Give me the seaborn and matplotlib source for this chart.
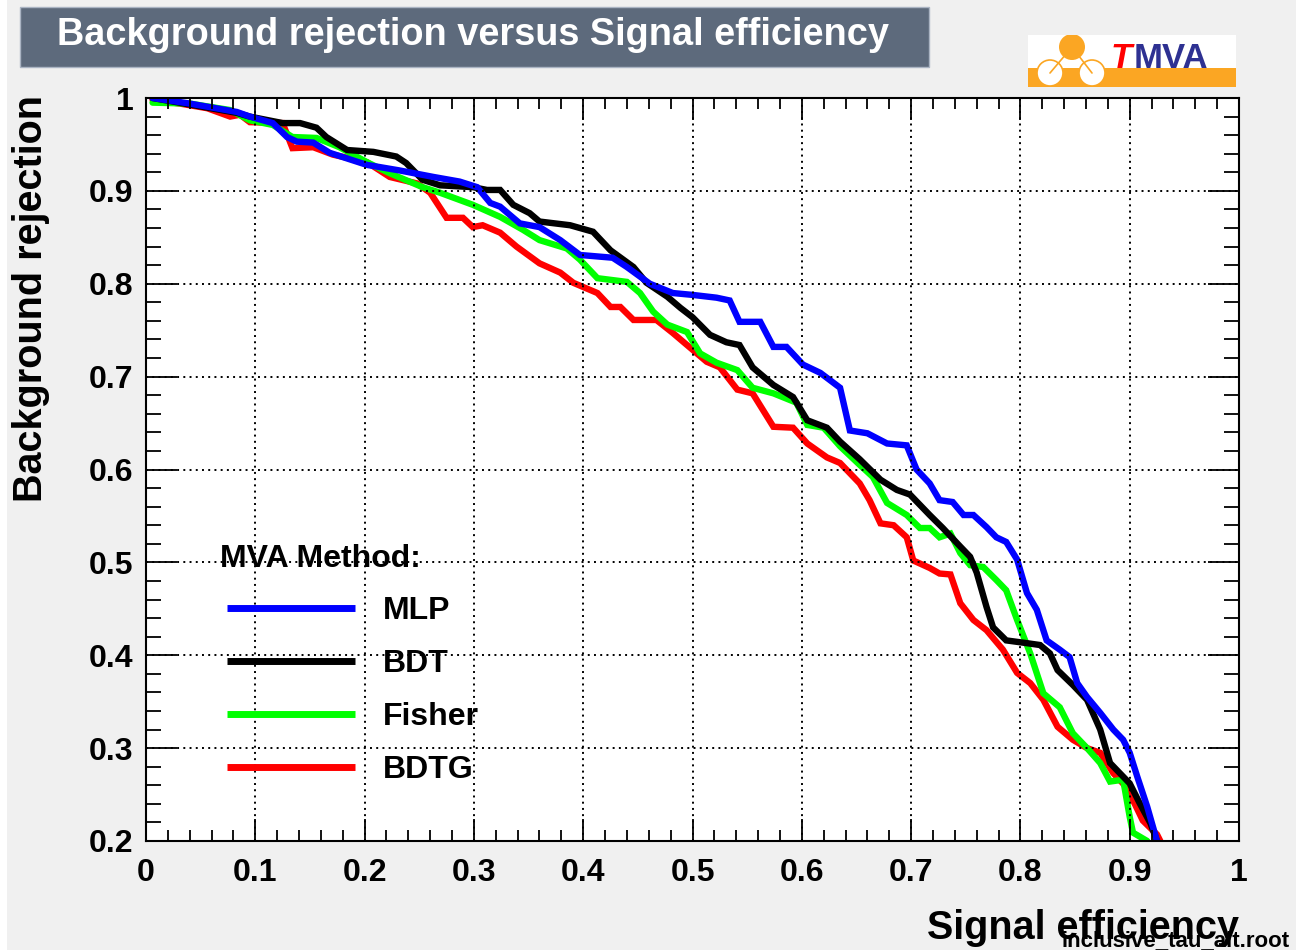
import matplotlib
matplotlib.use("Agg")
import matplotlib.pyplot as plt
from matplotlib.patches import Rectangle, Circle
from matplotlib.lines import Line2D
from matplotlib.ticker import MultipleLocator, FuncFormatter
import seaborn as sns
import pandas as pd

# ROC curves: signal efficiency vs background rejection per MVA method
mlp_eff = [0.006, 0.04, 0.083, 0.095, 0.116, 0.129, 0.138, 0.153, 0.168, 0.202, 0.232, 0.263,
           0.287, 0.303, 0.315, 0.324, 0.342, 0.36, 0.379, 0.397, 0.427, 0.44, 0.461, 0.482,
           0.5, 0.522, 0.534, 0.543, 0.562, 0.574, 0.586, 0.601, 0.617, 0.635, 0.644, 0.66,
           0.678, 0.696, 0.705, 0.717, 0.726, 0.738, 0.748, 0.757, 0.769, 0.778, 0.787, 0.797,
           0.806, 0.815, 0.824, 0.836, 0.845, 0.852, 0.861, 0.873, 0.885, 0.894, 0.9, 0.907,
           0.916, 0.925]
mlp_rej = [1.0, 0.994, 0.985, 0.98, 0.973, 0.958, 0.953, 0.952, 0.941, 0.928, 0.922, 0.915,
           0.91, 0.904, 0.887, 0.883, 0.865, 0.861, 0.847, 0.831, 0.828, 0.818, 0.8, 0.79,
           0.788, 0.785, 0.782, 0.759, 0.759, 0.732, 0.732, 0.713, 0.704, 0.688, 0.642, 0.639,
           0.628, 0.626, 0.6, 0.585, 0.567, 0.565, 0.551, 0.551, 0.538, 0.527, 0.522, 0.503,
           0.467, 0.449, 0.416, 0.406, 0.398, 0.37, 0.355, 0.338, 0.32, 0.309, 0.295, 0.269,
           0.237, 0.2]

bdt_eff = [0.006, 0.04, 0.083, 0.095, 0.125, 0.141, 0.156, 0.165, 0.184, 0.208, 0.229, 0.238,
           0.253, 0.269, 0.299, 0.312, 0.324, 0.336, 0.351, 0.36, 0.388, 0.409, 0.425, 0.446,
           0.458, 0.477, 0.489, 0.5, 0.516, 0.531, 0.543, 0.555, 0.574, 0.592, 0.605, 0.623,
           0.635, 0.653, 0.672, 0.687, 0.699, 0.717, 0.729, 0.745, 0.754, 0.76, 0.769, 0.775,
           0.787, 0.806, 0.818, 0.827, 0.834, 0.848, 0.861, 0.873, 0.882, 0.891, 0.9, 0.909,
           0.919, 0.925]
bdt_rej = [1.0, 0.993, 0.984, 0.98, 0.973, 0.973, 0.968, 0.958, 0.944, 0.942, 0.937, 0.93,
           0.912, 0.906, 0.904, 0.901, 0.901, 0.885, 0.876, 0.867, 0.863, 0.856, 0.836, 0.818,
           0.801, 0.786, 0.774, 0.764, 0.745, 0.737, 0.734, 0.71, 0.691, 0.678, 0.653, 0.645,
           0.63, 0.611, 0.589, 0.578, 0.573, 0.551, 0.537, 0.517, 0.506, 0.489, 0.452, 0.43,
           0.416, 0.413, 0.411, 0.402, 0.384, 0.368, 0.352, 0.32, 0.284, 0.273, 0.262, 0.241,
           0.219, 0.2]

fisher_eff = [0.006, 0.04, 0.077, 0.095, 0.116, 0.134, 0.156, 0.177, 0.202, 0.223, 0.253, 0.269,
              0.299, 0.324, 0.345, 0.36, 0.385, 0.397, 0.413, 0.44, 0.452, 0.464, 0.477, 0.495,
              0.507, 0.522, 0.541, 0.555, 0.574, 0.595, 0.605, 0.62, 0.635, 0.653, 0.665, 0.678,
              0.696, 0.708, 0.717, 0.726, 0.736, 0.745, 0.754, 0.766, 0.778, 0.787, 0.797, 0.809,
              0.821, 0.836, 0.848, 0.861, 0.873, 0.882, 0.894, 0.9, 0.903, 0.916]
fisher_rej = [0.995, 0.994, 0.987, 0.976, 0.971, 0.958, 0.957, 0.947, 0.931, 0.919, 0.904, 0.898,
              0.885, 0.872, 0.858, 0.847, 0.838, 0.826, 0.806, 0.802, 0.79, 0.77, 0.756, 0.748,
              0.725, 0.715, 0.707, 0.688, 0.682, 0.672, 0.648, 0.645, 0.625, 0.605, 0.592, 0.564,
              0.551, 0.537, 0.537, 0.527, 0.531, 0.51, 0.497, 0.495, 0.481, 0.47, 0.438, 0.402,
              0.359, 0.344, 0.316, 0.3, 0.284, 0.264, 0.266, 0.226, 0.209, 0.2]

bdtg_eff = [0.006, 0.031, 0.056, 0.077, 0.086, 0.095, 0.125, 0.134, 0.153, 0.171, 0.202, 0.223,
            0.248, 0.26, 0.275, 0.29, 0.299, 0.308, 0.324, 0.339, 0.36, 0.379, 0.391, 0.413,
            0.425, 0.434, 0.446, 0.467, 0.482, 0.498, 0.513, 0.525, 0.541, 0.555, 0.574, 0.592,
            0.605, 0.623, 0.635, 0.653, 0.662, 0.672, 0.684, 0.696, 0.702, 0.717, 0.726, 0.736,
            0.745, 0.757, 0.769, 0.784, 0.797, 0.809, 0.821, 0.834, 0.848, 0.861, 0.873, 0.885,
            0.897, 0.903, 0.912, 0.925, 0.928]
bdtg_rej = [0.998, 0.994, 0.989, 0.98, 0.982, 0.974, 0.973, 0.946, 0.947, 0.939, 0.931, 0.915,
            0.908, 0.898, 0.871, 0.871, 0.861, 0.863, 0.855, 0.84, 0.822, 0.812, 0.801, 0.79,
            0.775, 0.775, 0.761, 0.761, 0.747, 0.731, 0.716, 0.71, 0.686, 0.682, 0.646, 0.645,
            0.628, 0.613, 0.607, 0.585, 0.567, 0.542, 0.54, 0.527, 0.502, 0.494, 0.488, 0.487,
            0.456, 0.438, 0.427, 0.406, 0.381, 0.37, 0.352, 0.323, 0.309, 0.3, 0.295, 0.273,
            0.258, 0.244, 0.222, 0.207, 0.2]

methods = ["MLP", "BDT", "Fisher", "BDTG"]
colors = {"MLP": "#0000ff", "BDT": "#000000", "Fisher": "#00ff00", "BDTG": "#ff0000"}
x_ticks = [0, 0.1, 0.2, 0.3, 0.4, 0.5, 0.6, 0.7, 0.8, 0.9, 1.0]
y_ticks = [0.2, 0.3, 0.4, 0.5, 0.6, 0.7, 0.8, 0.9, 1.0]

frames = []
for name, xs, ys in [("MLP", mlp_eff, mlp_rej), ("BDT", bdt_eff, bdt_rej),
                     ("Fisher", fisher_eff, fisher_rej), ("BDTG", bdtg_eff, bdtg_rej)]:
    frames.append(pd.DataFrame({"eff": xs, "rej": ys, "method": name}))
df = pd.concat(frames, ignore_index=True)

sns.set_style("ticks")
plt.rcParams["font.family"] = ["Liberation Sans", "DejaVu Sans"]
plt.rcParams["font.weight"] = "bold"
for key in ["text.color", "axes.labelcolor", "xtick.color", "ytick.color", "axes.edgecolor"]:
    plt.rcParams[key] = "black"

BG = "#f0f0f0"
fig = plt.figure(figsize=(12.96, 9.5), dpi=100, facecolor=BG)
fig.patches.append(Rectangle((0, 0), 7 / 1296, 1, transform=fig.transFigure,
                             facecolor="white", edgecolor="none", zorder=0))

ax = fig.add_axes([146 / 1296, 1 - 841 / 950, 1093 / 1296, 743 / 950])
ax.set_facecolor("white")

sns.lineplot(data=df, x="eff", y="rej", hue="method",
             hue_order=["BDTG", "Fisher", "BDT", "MLP"], palette=colors,
             sort=False, estimator=None, linewidth=4.6, legend=False, ax=ax,
             solid_joinstyle="miter")

ax.set_xlim(0, 1)
ax.set_ylim(0.2, 1.0)
ax.set_xticks(x_ticks)
ax.set_yticks(y_ticks)
ax.xaxis.set_minor_locator(MultipleLocator(0.02))
ax.yaxis.set_minor_locator(MultipleLocator(0.02))
fmt = FuncFormatter(lambda v, p: f"{v:g}")
ax.xaxis.set_major_formatter(fmt)
ax.yaxis.set_major_formatter(fmt)

ax.grid(True, which="major", color="black", linestyle=(0, (1, 2.2)), linewidth=1.4)
ax.set_axisbelow(False)
for s in ax.spines.values():
    s.set_linewidth(1.5)
    s.set_color("black")
    s.set_zorder(5)

ax.tick_params(axis="both", which="both", direction="in", top=True, right=True,
               width=1.3, color="black", labelsize=23, labelcolor="black")
ax.tick_params(axis="x", which="major", length=16, pad=12)
ax.tick_params(axis="x", which="minor", length=8)
ax.tick_params(axis="y", which="major", length=22, pad=9)
ax.tick_params(axis="y", which="minor", length=11)
for lab in ax.get_xticklabels() + ax.get_yticklabels():
    lab.set_fontweight("bold")

ax.set_xlabel("Signal efficiency", fontsize=28.5, fontweight="bold", loc="right")
ax.xaxis.set_label_coords(1.0, -0.091)
ax.set_ylabel("Background rejection", fontsize=28.5, fontweight="bold", loc="top")
ax.yaxis.set_label_coords(-0.088, 1.004)

# legend block
ax.text(0.0677, 0.3796, "MVA Method:", transform=ax.transAxes, fontsize=23,
        fontweight="bold", ha="left", va="center", zorder=6)
handles = [Line2D([], [], color=colors[m], linewidth=5, solid_capstyle="butt")
           for m in methods]
leg = ax.legend(handles, methods, loc="upper left", bbox_to_anchor=(0.0741, 0.3298),
                frameon=False, fontsize=23, handlelength=4.0, handletextpad=0.88,
                labelspacing=0.72, borderpad=0, borderaxespad=0)
for t in leg.get_texts():
    t.set_fontweight("bold")

# title banner
fig.patches.append(Rectangle((20 / 1296, 1 - 67 / 950), 909 / 1296, 60 / 950,
                             transform=fig.transFigure, facecolor="#5d6a7c",
                             edgecolor="#aab4c3", linewidth=1.0, zorder=1))
fig.text(57 / 1296, 1 - 35 / 950, "Background rejection versus Signal efficiency",
         color="white", fontsize=27.3, fontweight="bold", ha="left", va="center", zorder=2)

# TMVA logo
lax = fig.add_axes([1028 / 1296, 1 - 87 / 950, 208 / 1296, 52 / 950])
lax.set_xlim(0, 208)
lax.set_ylim(52, 0)
lax.axis("off")
ORANGE = "#fba623"
lax.add_patch(Rectangle((0, 0), 208, 52, facecolor="white", edgecolor="none"))
lax.add_patch(Rectangle((0, 33), 208, 19, facecolor=ORANGE, edgecolor="none"))
lax.plot([44, 22], [12, 38], color=ORANGE, linewidth=1.2)
lax.plot([44, 64], [12, 38], color=ORANGE, linewidth=1.2)
lax.add_patch(Circle((44, 12), 13, facecolor=ORANGE, edgecolor="none"))
lax.add_patch(Circle((22, 38), 13, facecolor="white", edgecolor=ORANGE, linewidth=1.2))
lax.add_patch(Circle((64, 38), 13, facecolor="white", edgecolor=ORANGE, linewidth=1.2))
lax.text(83, 23, "T", color="#ff0000", fontsize=25, fontweight="bold", style="italic",
         ha="left", va="center")
lax.text(106, 23, "MVA", color="#2e3192", fontsize=25, fontweight="bold",
         ha="left", va="center")

fig.text(1290 / 1296, 1 - 946 / 950, "inclusive_tau_alt.root", fontsize=16,
         fontweight="bold", ha="right", va="baseline", color="black")

fig.savefig("out.png", dpi=100, facecolor=BG)
